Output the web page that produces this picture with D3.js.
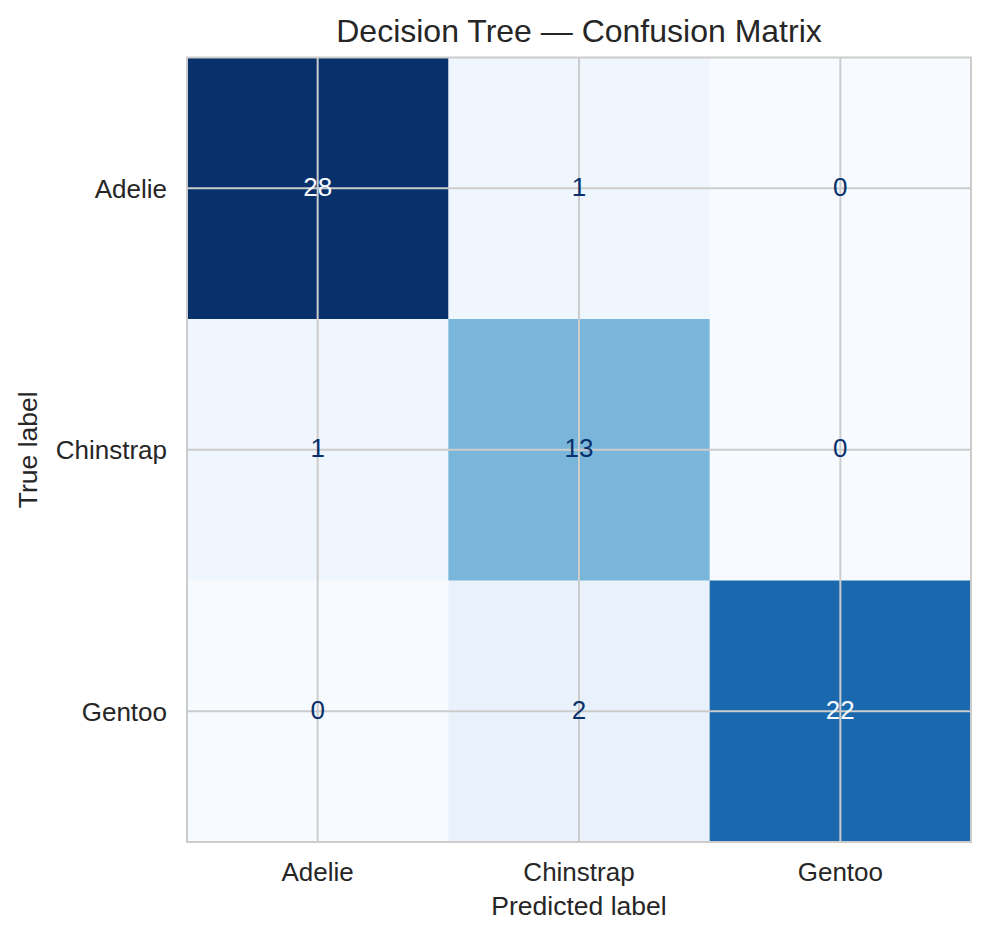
<!DOCTYPE html>
<html>
<head>
<meta charset="utf-8">
<script src="https://cdn.jsdelivr.net/npm/d3@7"></script>
<style>
  body { margin: 0; background: #fff; }
  text { font-family: "Liberation Sans", Arial, sans-serif; fill: #262626; }
</style>
</head>
<body>
<div id="chart"></div>
<script>
// class names (rows = true, cols = predicted)
var classes = ["Adelie", "Chinstrap", "Gentoo"];
var matrix = [
  [28, 1, 0],
  [1, 13, 0],
  [0, 2, 22]
];

var W = 990, H = 939;
var margin = {top: 57.5, left: 187, right: 19, bottom: 97};
var width = W - margin.left - margin.right,
    height = H - margin.top - margin.bottom;

var svg = d3.select("#chart").append("svg")
  .attr("width", W).attr("height", H);

var g = svg.append("g")
  .attr("transform", "translate(" + margin.left + "," + margin.top + ")");

var x = d3.scaleBand().domain(classes).range([0, width]);
var y = d3.scaleBand().domain(classes).range([0, height]);

var vmax = d3.max(matrix, function(r) { return d3.max(r); });
var vmin = d3.min(matrix, function(r) { return d3.min(r); });
// matplotlib Blues = linear steps through brewer Blues-9
var color = d3.scaleSequential(d3.piecewise(d3.interpolateRgb, d3.schemeBlues[9]))
  .domain([vmin, vmax]);

var cells = [];
matrix.forEach(function(row, i) {
  row.forEach(function(v, j) {
    cells.push({t: classes[i], p: classes[j], v: v});
  });
});

g.selectAll("rect.cell").data(cells).enter().append("rect")
  .attr("class", "cell")
  .attr("x", function(d) { return x(d.p); })
  .attr("y", function(d) { return y(d.t); })
  .attr("width", x.bandwidth() + 0.5)
  .attr("height", y.bandwidth() + 0.5)
  .attr("fill", function(d) { return color(d.v); });

// grid lines at cell centres (seaborn whitegrid), drawn over the image
g.selectAll("line.gx").data(classes).enter().append("line")
  .attr("x1", function(d) { return x(d) + x.bandwidth() / 2; })
  .attr("x2", function(d) { return x(d) + x.bandwidth() / 2; })
  .attr("y1", 0).attr("y2", height)
  .attr("stroke", "#cccccc").attr("stroke-width", 2);
g.selectAll("line.gy").data(classes).enter().append("line")
  .attr("y1", function(d) { return y(d) + y.bandwidth() / 2; })
  .attr("y2", function(d) { return y(d) + y.bandwidth() / 2; })
  .attr("x1", 0).attr("x2", width)
  .attr("stroke", "#cccccc").attr("stroke-width", 2);

// frame
g.append("rect")
  .attr("width", width).attr("height", height)
  .attr("fill", "none").attr("stroke", "#cccccc").attr("stroke-width", 2);

// annotations
var thresh = (vmax + vmin) / 2;
g.selectAll("text.val").data(cells).enter().append("text")
  .attr("class", "val")
  .attr("x", function(d) { return x(d.p) + x.bandwidth() / 2; })
  .attr("y", function(d) { return y(d.t) + y.bandwidth() / 2 + 7.5; })
  .attr("text-anchor", "middle")
  .style("font-size", "26px")
  .style("fill", function(d) { return d.v > thresh ? color(vmin) : color(vmax); })
  .text(function(d) { return d.v; });

// axes (no tick marks)
var xAxis = g.append("g")
  .attr("transform", "translate(0," + height + ")")
  .call(d3.axisBottom(x).tickSize(0).tickPadding(0));
xAxis.select(".domain").remove();
xAxis.selectAll("text")
  .attr("y", 39).attr("dy", null)
  .style("font-size", "26px").style("fill", "#262626");

var yAxis = g.append("g")
  .call(d3.axisLeft(y).tickSize(0).tickPadding(0));
yAxis.select(".domain").remove();
yAxis.selectAll("text")
  .attr("x", -20).attr("dy", "9.5px")
  .style("font-size", "26px").style("fill", "#262626");

// labels
svg.append("text")
  .attr("x", margin.left + width / 2).attr("y", 915)
  .attr("text-anchor", "middle")
  .style("font-size", "26.5px")
  .text("Predicted label");

svg.append("text")
  .attr("transform", "translate(37," + (margin.top + height / 2) + ") rotate(-90)")
  .attr("text-anchor", "middle")
  .style("font-size", "26.5px")
  .text("True label");

svg.append("text")
  .attr("x", margin.left + width / 2).attr("y", 42)
  .attr("text-anchor", "middle")
  .style("font-size", "32px")
  .text("Decision Tree \u2014 Confusion Matrix");
</script>
</body>
</html>
